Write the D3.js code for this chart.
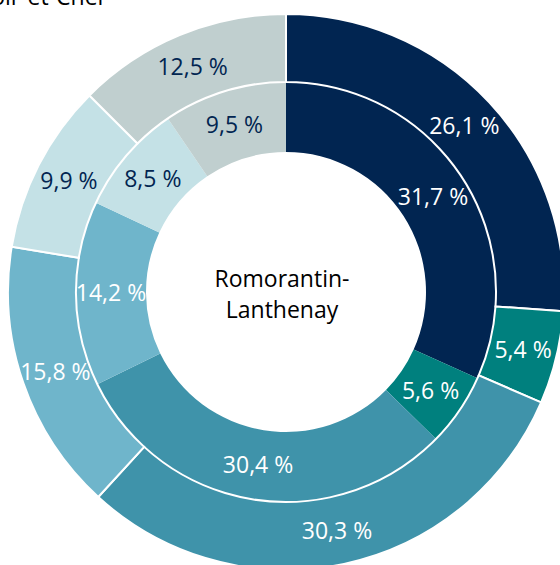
<!DOCTYPE html>
<html lang="fr">
<head>
    <meta charset="UTF-8">
    <title>Loir-et-Cher / Romorantin-Lanthenay</title>
    <script src="https://d3js.org/d3.v7.min.js"></script>
    <style>
        body { margin: 0; background: white; overflow: hidden; }
        svg { display: block; font-family: "Open Sans", sans-serif; }
    </style>
</head>
<body>
    <svg width="560" height="565"></svg>

    <script>
        // data (clockwise from 12 o'clock)
        const categories = ["c1", "c2", "c3", "c4", "c5", "c6"];
        const outerValues = [26.1, 5.4, 30.3, 15.8, 9.9, 12.5];   // Loir-et-Cher
        const innerValues = [31.7, 5.6, 30.4, 14.2, 8.5, 9.5];    // Romorantin-Lanthenay
        const outerName = "Loir-et-Cher";
        const innerName = ["Romorantin-", "Lanthenay"];

        const colors = ["#012551", "#00807e", "#3f93aa", "#6fb5cb", "#c4e1e6", "#c0cfcf"];
        const labelColors = ["#ffffff", "#ffffff", "#ffffff", "#ffffff", "#012551", "#012551"];

        const svg = d3.select("svg");
        const cx = 286, cy = 292;
        const rHole = 140, rMid = 210, rOut = 278;

        const fmt = v => d3.format(".1f")(v).replace(".", ",") + " %";

        const pie = d3.pie().sort(null).value(d => d);
        const color = d3.scaleOrdinal().domain(categories).range(colors);
        const textColor = d3.scaleOrdinal().domain(categories).range(labelColors);

        const g = svg.append("g").attr("transform", `translate(${cx},${cy})`);

        function ring(values, r0, r1, stroke, cls) {
            const arc = d3.arc().innerRadius(r0).outerRadius(r1);
            const arcs = pie(values);
            const grp = g.append("g").attr("class", cls);
            grp.selectAll("path")
                .data(arcs)
                .join("path")
                .attr("d", arc)
                .attr("fill", (d, i) => color(categories[i]))
                .attr("stroke", stroke ? "white" : "none")
                .attr("stroke-width", 2);
            grp.selectAll("text")
                .data(arcs)
                .join("text")
                .attr("transform", d => `translate(${arc.centroid(d)})`)
                .attr("text-anchor", "middle")
                .attr("dy", "0.35em")
                .attr("font-size", 23)
                .attr("fill", (d, i) => textColor(categories[i]))
                .text(d => fmt(d.data));
        }

        ring(innerValues, rHole, rMid, false, "inner");
        ring(outerValues, rMid, rOut, true, "outer");

        // centre label
        g.append("text")
            .attr("text-anchor", "middle")
            .attr("font-size", 23)
            .attr("fill", "#000")
            .selectAll("tspan")
            .data(innerName)
            .join("tspan")
            .attr("x", -4)
            .attr("y", (d, i) => -5 + i * 31)
            .text(d => d);

        // title, cut off at the top of the picture (as in the source)
        svg.append("text")
            .attr("x", 107)
            .attr("y", 5)
            .attr("text-anchor", "end")
            .attr("font-size", 23)
            .attr("fill", "#000")
            .text(outerName);
    </script>
</body>
</html>
